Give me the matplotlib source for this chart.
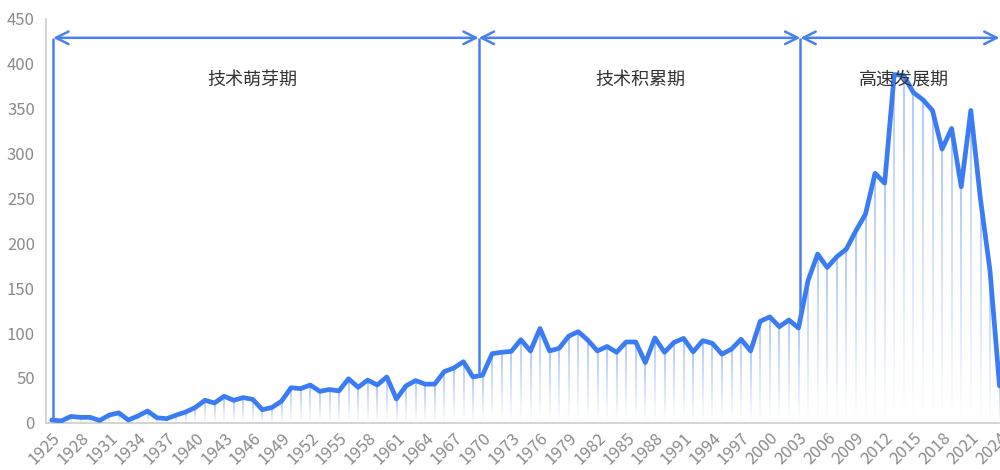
import numpy as np
import matplotlib
matplotlib.use("Agg")
import matplotlib.pyplot as plt
from matplotlib.colors import LinearSegmentedColormap

plt.rcParams['font.family'] = ['Noto Sans CJK SC', 'DejaVu Sans']

# Annual publication counts, 1925-2024
years = list(range(1925, 2025))
counts = [
    3, 2, 7, 6, 6, 2.5, 8.5, 11, 3, 7.5,            # 1925-1934
    13, 5.5, 4.5, 8.5, 12, 17, 25, 22, 29.5, 25,    # 1935-1944
    28, 26, 14.5, 17, 24, 39, 38, 42, 35, 37,       # 1945-1954
    35.5, 49, 39.5, 47.5, 42, 51, 26.5, 41, 47, 43, # 1955-1964
    43, 57, 61, 68, 51, 53, 77, 78.5, 79.5, 92.5,   # 1965-1974
    80, 105, 80, 83, 96.5, 101.5, 92, 80, 85, 78.5, # 1975-1984
    90, 90, 67, 94.5, 78.5, 89.5, 94, 79, 91.5, 88.5,  # 1985-1994
    76.5, 82, 93, 80, 113, 118, 107, 114.5, 105.5, 158.5,  # 1995-2004
    188, 173, 185, 193.5, 214, 232.5, 278, 267, 388, 387,  # 2005-2014
    368, 360, 348, 305, 328, 263, 348, 250, 170, 41,       # 2015-2024
]

# Development stages: boundaries and titles
stage_edges = [1925.15, 1969.6, 2003.2, 2024.0]
stage_names = ["技术萌芽期", "技术积累期", "高速发展期"]
stage_label_x = [1946.0, 1986.5, 2014.0]

tick_years = years[::3]

line_color = "#3b7cf4"
mark_color = "#4a80ee"

fig = plt.figure(figsize=(10, 4.7), dpi=100)
ax = fig.add_axes([0.046, 0.1006, 0.954, 0.859])

# Thin gradient stems under every point
cmap = LinearSegmentedColormap.from_list(
    "stem", [(0.32, 0.54, 0.96, 0.0), (0.32, 0.54, 0.96, 0.45)])
grad = np.linspace(0, 1, 64).reshape(-1, 1)
stem_w = 0.09
for x, v in zip(years, counts):
    ax.imshow(grad, cmap=cmap, origin="lower", aspect="auto",
              extent=[x - stem_w, x + stem_w, 0, v],
              interpolation="bilinear", zorder=1)

ax.plot(years, counts, color=line_color, lw=3.4, solid_joinstyle="round",
        solid_capstyle="round", zorder=3)

# Stage dividers and double-headed arrows
arrow_y = 429
for x in stage_edges[:3]:
    ax.vlines(x, np.interp(x, years, counts), arrow_y, color=mark_color,
              lw=1.8, zorder=4)
for a, b in zip(stage_edges[:-1], stage_edges[1:]):
    ax.annotate("", xy=(b, arrow_y), xytext=(a, arrow_y),
                arrowprops=dict(arrowstyle="<->,head_length=0.9,head_width=0.45",
                                color=mark_color, lw=1.8, shrinkA=0, shrinkB=0,
                                mutation_scale=10),
                annotation_clip=False, zorder=4)
for x, name in zip(stage_label_x, stage_names):
    ax.text(x, 382, name, ha="center", va="center", fontsize=13,
            color="#333333", zorder=5)

ax.set_xlim(1924.4, 2024.05)
ax.set_ylim(0, 450)
ax.set_yticks(range(0, 451, 50))
ax.set_xticks(tick_years)
ax.set_xticklabels([str(y) for y in tick_years], rotation=45, ha="right",
                   va="top", rotation_mode="anchor")
ax.tick_params(axis="both", length=0, colors="#8a8a8a", labelsize=12)
ax.tick_params(axis="y", pad=8)
ax.tick_params(axis="x", pad=5)
for s in ("top", "right"):
    ax.spines[s].set_visible(False)
for s in ("left", "bottom"):
    ax.spines[s].set_color("#d0d0d0")
    ax.spines[s].set_linewidth(1.3)

fig.savefig("out.png", dpi=100)
